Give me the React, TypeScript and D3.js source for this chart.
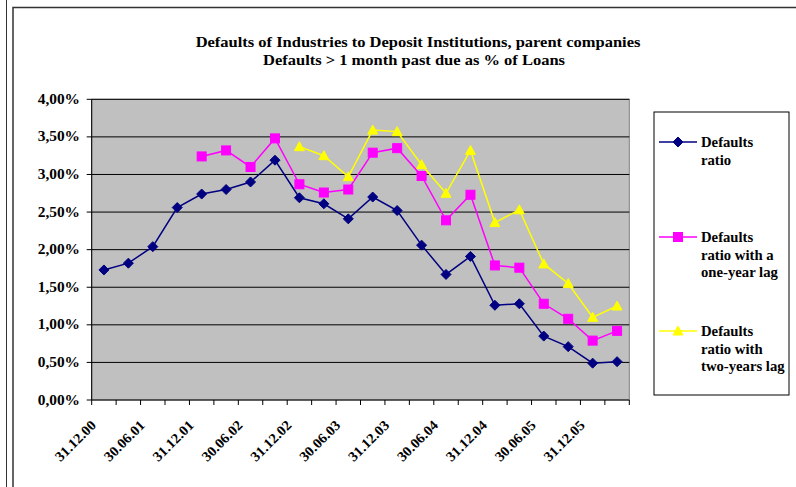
import * as d3 from "d3";

// quarterly reporting dates
const categories = [
  "31.12.00", "31.03.01", "30.06.01", "30.09.01", "31.12.01", "31.03.02",
  "30.06.02", "30.09.02", "31.12.02", "31.03.03", "30.06.03", "30.09.03",
  "31.12.03", "31.03.04", "30.06.04", "30.09.04", "31.12.04", "31.03.05",
  "30.06.05", "30.09.05", "31.12.05", "31.03.06",
];

// values in %
const defaultsRatio = [
  1.73, 1.82, 2.04, 2.56, 2.74, 2.80, 2.90, 3.19, 2.69, 2.61, 2.41,
  2.70, 2.52, 2.06, 1.67, 1.91, 1.26, 1.28, 0.85, 0.71, 0.49, 0.51,
];
const oneYearLag = [
  null, null, null, null, 3.24, 3.32, 3.10, 3.48, 2.87, 2.76, 2.80,
  3.29, 3.35, 2.98, 2.39, 2.73, 1.79, 1.76, 1.28, 1.08, 0.79, 0.92,
];
const twoYearsLag = [
  null, null, null, null, null, null, null, null, 3.37, 3.25, 2.97,
  3.59, 3.57, 3.13, 2.75, 3.32, 2.36, 2.53, 1.81, 1.55, 1.10, 1.25,
];

const yTicks = [0, 0.5, 1, 1.5, 2, 2.5, 3, 3.5, 4];

const FONT = '"Liberation Serif", "Times New Roman", "DejaVu Serif", serif';

export default function App() {
  const W = 796;
  const H = 487;
  const left = 91.7;
  const right = 629.3;
  const top = 99.3;
  const bottom = 400;

  const x = d3.scaleBand().domain(categories).range([left, right]).padding(0);
  const y = d3.scaleLinear().domain([0, 4]).range([bottom, top]);
  const cx = (i: number) => (x(categories[i]) as number) + x.bandwidth() / 2;

  const line = d3
    .line<number | null>()
    .defined((d) => d != null)
    .x((_, i) => cx(i))
    .y((d) => y(d as number));

  const fmt = (v: number) => v.toFixed(2).replace(".", ",") + "%";

  const diamond = (px: number, py: number, r = 5) =>
    `M${px},${py - r}L${px + r},${py}L${px},${py + r}L${px - r},${py}Z`;
  const triangle = (px: number, py: number, r = 5) =>
    `M${px},${py - r}L${px + r},${py + r * 0.8}L${px - r},${py + r * 0.8}Z`;

  const series = [
    { data: defaultsRatio, color: "#000080", marker: "diamond" },
    { data: oneYearLag, color: "#FF00FF", marker: "square" },
    { data: twoYearsLag, color: "#FFFF00", marker: "triangle" },
  ];

  const marker = (kind: string, px: number, py: number, color: string, key: any) => {
    if (kind === "diamond")
      return <path key={key} d={diamond(px, py)} fill={color} stroke={color} />;
    if (kind === "square")
      return (
        <rect key={key} x={px - 4.5} y={py - 4.5} width={9} height={9} fill={color} stroke={color} />
      );
    return <path key={key} d={triangle(px, py)} fill={color} stroke={color} />;
  };

  const legendItems = [
    { lines: ["Defaults", "ratio"], color: "#000080", marker: "diamond", y: 142 },
    { lines: ["Defaults", "ratio with a", "one-year lag"], color: "#FF00FF", marker: "square", y: 237 },
    { lines: ["Defaults", "ratio with", "two-years lag"], color: "#FFFF00", marker: "triangle", y: 331 },
  ];

  return (
    <svg
      width={W}
      height={H}
      style={{ position: "absolute", left: 0, top: 0, display: "block", background: "#fff", fontFamily: FONT }}
    >
      {/* outer frame */}
      <line x1={6.5} y1={0} x2={6.5} y2={H} stroke="#333" strokeWidth={1} />
      <path d={`M13,${H}V7.5H${W}`} fill="none" stroke="#333" strokeWidth={1.5} />

      {/* title */}
      <g fontSize={15} fontWeight="bold" textAnchor="middle">
        <text transform="translate(418,47) scale(1.1,1)">
          Defaults of Industries to Deposit Institutions, parent companies
        </text>
        <text transform="translate(414,65) scale(1.1,1)">
          {"Defaults > 1 month past due as % of Loans"}
        </text>
      </g>

      {/* plot area */}
      <rect x={left} y={top} width={right - left} height={bottom - top} fill="#C0C0C0" stroke="#808080" strokeWidth={1} />
      {yTicks.slice(1).map((t) => (
        <line key={t} x1={left} x2={right} y1={y(t)} y2={y(t)} stroke="#000" strokeWidth={1} />
      ))}
      <line x1={left} x2={left} y1={top} y2={bottom} stroke="#000" strokeWidth={1} />
      <line x1={left} x2={right} y1={bottom} y2={bottom} stroke="#000" strokeWidth={1} />

      {/* y axis */}
      {yTicks.map((t) => (
        <g key={t}>
          <line x1={left - 5} x2={left} y1={y(t)} y2={y(t)} stroke="#000" />
          <text
            transform={`translate(80,${y(t) + 4.5}) scale(1.1,1)`}
            textAnchor="end"
            fontSize={14}
            fontWeight="bold"
          >
            {fmt(t)}
          </text>
        </g>
      ))}

      {/* x axis */}
      {categories.map((c) => (
        <line key={c} x1={x(c)} x2={x(c)} y1={bottom} y2={bottom + 5} stroke="#000" />
      ))}
      <line x1={right} x2={right} y1={bottom} y2={bottom + 5} stroke="#000" />
      {categories.map((c, i) =>
        i % 2 === 0 ? (
          <text
            key={c}
            transform={`translate(${cx(i) - 7},${bottom + 26}) rotate(-45) scale(1.05,1)`}
            textAnchor="end"
            fontSize={14}
            fontWeight="bold"
          >
            {c}
          </text>
        ) : null
      )}

      {/* series */}
      {series.map((s, si) => (
        <g key={si}>
          <path d={line(s.data) || ""} fill="none" stroke={s.color} strokeWidth={1.5} />
          {s.data.map((v, i) =>
            v == null ? null : marker(s.marker, cx(i), y(v), s.color, i)
          )}
        </g>
      ))}

      {/* legend */}
      <rect x={654} y={112} width={135} height={283} fill="#fff" stroke="#000" strokeWidth={1} />
      {legendItems.map((it, k) => (
        <g key={k}>
          <line x1={659} x2={697} y1={it.y} y2={it.y} stroke={it.color} strokeWidth={1.5} />
          {marker(it.marker, 678, it.y, it.color, "m")}
          {it.lines.map((t, j) => (
            <text
              key={j}
              transform={`translate(701,${it.y + 5 + j * 17.5}) scale(1.05,1)`}
              fontSize={14}
              fontWeight="bold"
            >
              {t}
            </text>
          ))}
        </g>
      ))}
    </svg>
  );
}
